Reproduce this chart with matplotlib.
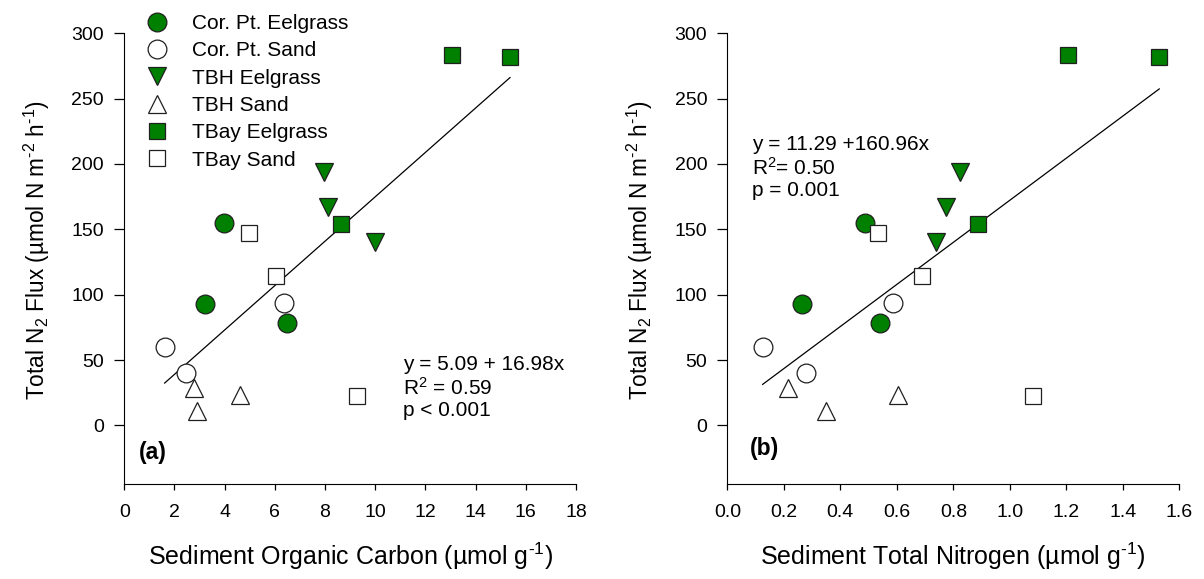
import numpy as np
import matplotlib
matplotlib.use("Agg")
import matplotlib.pyplot as plt

plt.rcParams['font.family'] = ['Liberation Sans', 'DejaVu Sans']
plt.rcParams['mathtext.fontset'] = 'custom'
plt.rcParams['mathtext.rm'] = 'Liberation Sans'
plt.rcParams['mathtext.it'] = 'Liberation Sans:italic'
plt.rcParams['mathtext.bf'] = 'Liberation Sans:bold'

# groups
groups = ["Cor. Pt. Eelgrass", "Cor. Pt. Sand", "TBH Eelgrass", "TBH Sand",
          "TBay Eelgrass", "TBay Sand"]

# total N2 flux per group
flux_cp_eel = [155, 93, 78]
flux_cp_sand = [60, 40, 94]
flux_tbh_eel = [194, 167, 140]
flux_tbh_sand = [29, 11, 23]
flux_tb_eel = [283, 282, 154]
flux_tb_sand = [147.5, 114.5, 22.5]

# sediment organic carbon
oc_cp_eel = [3.97, 3.23, 6.49]
oc_cp_sand = [1.61, 2.45, 6.35]
oc_tbh_eel = [7.97, 8.12, 10.0]
oc_tbh_sand = [2.79, 2.88, 4.61]
oc_tb_eel = [13.04, 15.37, 8.62]
oc_tb_sand = [4.97, 6.04, 9.27]

# sediment total nitrogen
tn_cp_eel = [0.486, 0.264, 0.542]
tn_cp_sand = [0.125, 0.279, 0.588]
tn_tbh_eel = [0.824, 0.773, 0.739]
tn_tbh_sand = [0.214, 0.350, 0.605]
tn_tb_eel = [1.207, 1.529, 0.887]
tn_tb_sand = [0.532, 0.689, 1.081]

green = '#008000'
styles = [('o', green, 13.5), ('o', 'white', 13.5), ('v', green, 13.5),
          ('^', 'white', 13.5), ('s', green, 12), ('s', 'white', 12)]

flux = [flux_cp_eel, flux_cp_sand, flux_tbh_eel, flux_tbh_sand, flux_tb_eel, flux_tb_sand]
oc = [oc_cp_eel, oc_cp_sand, oc_tbh_eel, oc_tbh_sand, oc_tb_eel, oc_tb_sand]
tn = [tn_cp_eel, tn_cp_sand, tn_tbh_eel, tn_tbh_sand, tn_tb_eel, tn_tb_sand]

fit_a = (5.09, 16.98)
fit_b = (11.29, 160.96)

fig = plt.figure(figsize=(12.04, 5.79), dpi=100)
ax1 = fig.add_axes([0.1032, 0.1636, 0.3752, 0.779])
ax2 = fig.add_axes([0.6041, 0.1636, 0.3754, 0.779])

hy = '\u2010'
ylab = 'Total N$_2$ Flux (µmol N m$^{' + hy + '2}$ h$^{' + hy + '1}$)'

for ax, xs, fit in [(ax1, oc, fit_a), (ax2, tn, fit_b)]:
    for lab, x, y, (m, fc, ms) in zip(groups, xs, flux, styles):
        ax.plot(x, y, linestyle='none', marker=m, markersize=ms,
                markerfacecolor=fc, markeredgecolor='#202020',
                markeredgewidth=0.9, label=lab, zorder=3)
    allx = np.concatenate(xs)
    xx = np.array([allx.min(), allx.max()])
    ax.plot(xx, fit[0] + fit[1] * xx, color='black', lw=0.9, zorder=2)
    ax.set_ylim(-45, 300)
    ax.set_yticks(np.arange(0, 301, 50))
    for s in ['top', 'right']:
        ax.spines[s].set_visible(False)
    ax.spines['left'].set_bounds(-45, 300)
    ax.tick_params(axis='y', length=7.5, width=0.9, labelsize=14, pad=7)
    ax.tick_params(axis='x', length=4.5, width=0.9, labelsize=14, pad=10)
    ax.set_ylabel(ylab, fontsize=16.3)
    ax.yaxis.set_label_coords(-0.16, 0.52)

ax1.set_xlim(0, 18)
ax1.set_xticks(np.arange(0, 19, 2))
ax1.set_xlabel('Sediment Organic Carbon (µmol g$^{' + hy + '1}$)', fontsize=18, labelpad=14)
ax2.set_xlim(0, 1.6)
ax2.set_xticks(np.arange(0, 1.61, 0.2))
ax2.set_xticklabels([f'{v:.1f}' for v in np.arange(0, 1.61, 0.2)])
ax2.set_xlabel('Sediment Total Nitrogen (µmol g$^{' + hy + '1}$)', fontsize=18, labelpad=14)

ax1.text(0.59, -21, '(a)', fontsize=16.5, fontweight='bold', va='center')
ax2.text(0.08, -18, '(b)', fontsize=16.5, fontweight='bold', va='center')

ax1.text(11.09, 54, 'y = 5.09 + 16.98x\nR$^2$ = 0.59\np < 0.001',
         fontsize=15, va='top', linespacing=1.15)
ax2.text(0.086, 222, 'y = 11.29 +160.96x\nR$^2$= 0.50\np = 0.001',
         fontsize=15, va='top', linespacing=1.15)

ax1.legend(loc='upper left', bbox_to_anchor=(0.02, 1.061), frameon=False,
           fontsize=15, labelspacing=0.4, handletextpad=0.9, borderaxespad=0,
           handlelength=1.5, numpoints=1)

fig.savefig('out.png', dpi=100)
